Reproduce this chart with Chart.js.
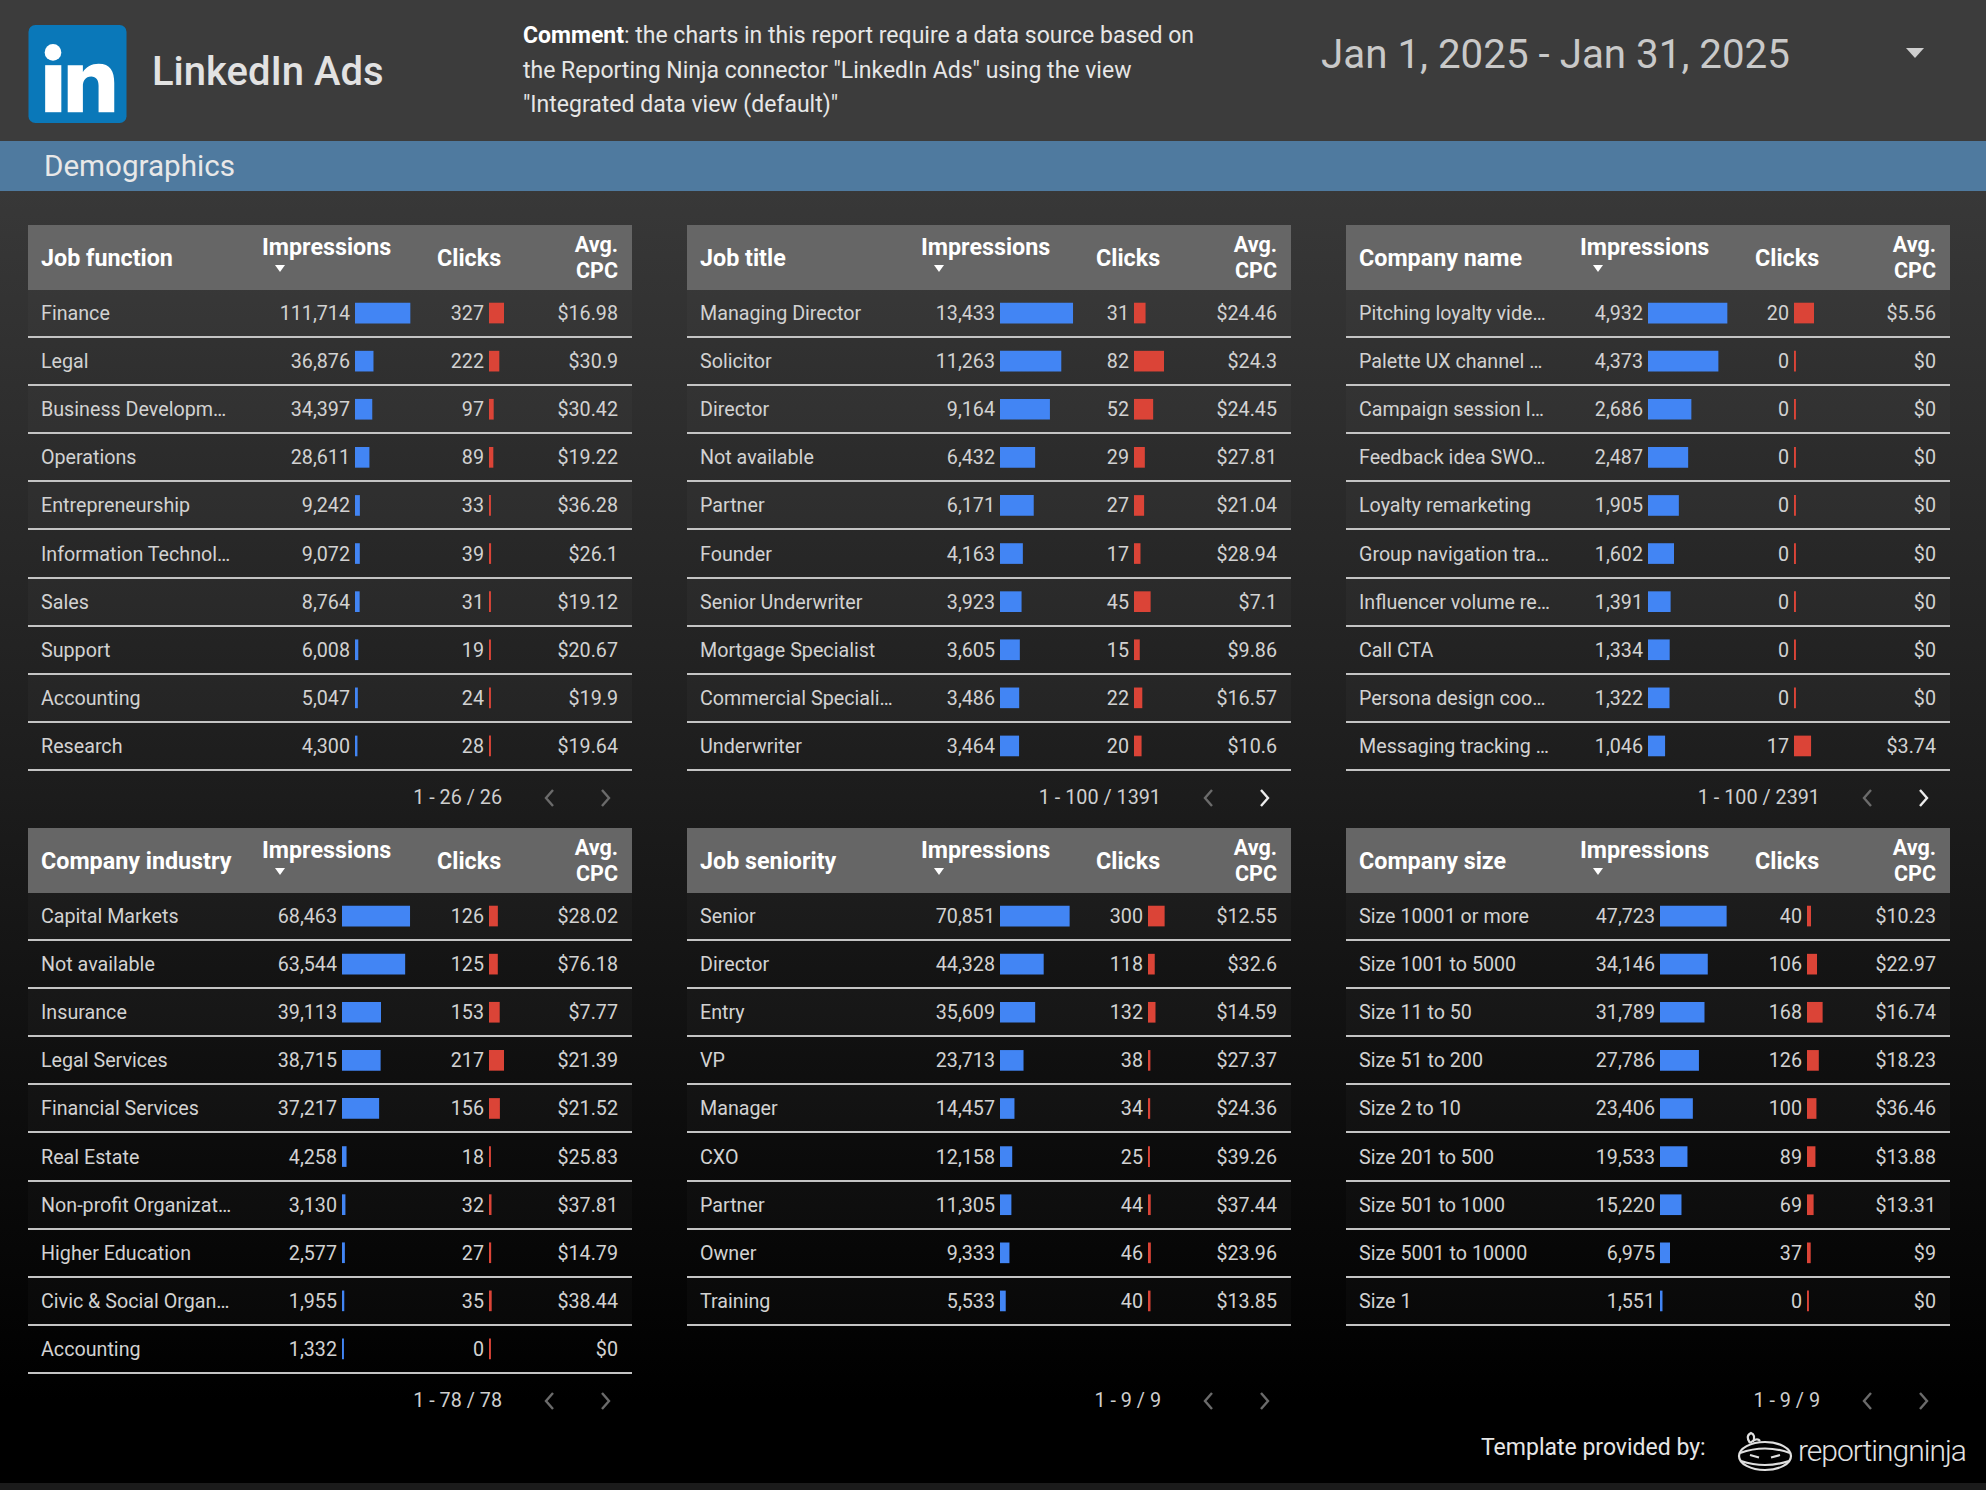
<!DOCTYPE html>
<html>
<head>
<meta charset="utf-8">
<title>LinkedIn Ads - Demographics</title>
<script src="https://cdn.jsdelivr.net/npm/chart.js@4.4.1/dist/chart.umd.min.js"></script>
<style>
    body {
        margin: 0;
        background: #000;
        font-family: Roboto, "Noto Sans", sans-serif;
    }

    #page {
        position: relative;
        width: 1986px;
        height: 1490px;
        overflow: hidden;
        background: linear-gradient(180deg, #383838 0px, #383838 191px, #000 1400px, #000 1490px);
    }

    #topbar {
        position: absolute;
        left: 0;
        top: 0;
        width: 1986px;
        height: 141px;
        background: #3c3c3c;
    }

    #band {
        position: absolute;
        left: 0;
        top: 141px;
        width: 1986px;
        height: 50px;
        background: #4f7a9f;
        color: #e8e8e8;
        font-size: 29.6px;
        line-height: 50px;
    }

    .abs {
        position: absolute;
        white-space: nowrap;
    }

    .table {
        position: absolute;
        width: 604px;
        height: 600px;
    }

    .thead {
        position: absolute;
        left: 0;
        top: 0;
        width: 604px;
        height: 65px;
        background: #666666;
        color: #ffffff;
        font-weight: 700;
        font-size: 23.3px;
    }

    .thead div {
        position: absolute;
        white-space: nowrap;
    }

    .row {
        position: absolute;
        left: 0;
        width: 604px;
        height: 48.1px;
        box-sizing: border-box;
        border-bottom: 2px solid #c4c4c4;
        color: #d2d2d2;
        font-size: 19.7px;
        line-height: 48px;
    }

    .row span {
        position: absolute;
        top: 0;
        white-space: nowrap;
    }

    .pager {
        color: #cfcfcf;
        font-size: 19.8px;
        line-height: 24px;
    }
</style>
</head>
<body>

<div id="page">

    <div id="topbar"></div>

    <svg class="abs" style="left:28px;top:25px" width="99" height="98" viewBox="0 0 100 100">
        <rect x="0" y="0" width="100" height="100" rx="7" fill="#0a78b9"/>
        <circle cx="25" cy="28" r="8.5" fill="#fff"/>
        <rect x="17" y="41" width="16.5" height="48" fill="#fff"/>
        <path d="M40 41 h15.5 v7 c3 -5 9 -8.5 16 -8.5 c12 0 16 7.5 16 19.5 v30 h-16 v-27 c0 -6 -2.5 -9.5 -7.5 -9.5 c-6 0 -8.5 4.5 -8.5 10 v26.5 h-15.5 z" fill="#fff"/>
    </svg>

    <div class="abs" style="left:152px;top:48px;font-size:40px;line-height:48px;font-weight:500;color:#e2e2e2">LinkedIn Ads</div>

    <div class="abs" style="left:523px;top:19px;font-size:23px;line-height:34.5px;color:#e6e6e6">
        <b style="color:#fff">Comment</b>: the charts in this report require a data source based on<br>
        the Reporting Ninja connector "LinkedIn Ads" using the view<br>
        "Integrated data view (default)"
    </div>

    <div class="abs" style="left:1321px;top:31px;font-size:40.3px;line-height:48px;color:#c9c9c9">Jan 1, 2025 - Jan 31, 2025</div>

    <div class="abs" style="left:1906px;top:48px;width:0;height:0;border-left:9px solid transparent;border-right:9px solid transparent;border-top:10px solid #cfcfcf"></div>

    <div id="band"><span style="position:absolute;left:44px">Demographics</span></div>

    <div id="tables"></div>

    <div class="abs" style="left:1481px;top:1433px;font-size:23px;line-height:30px;color:#e6e6e6">Template provided by:</div>

    <svg class="abs" style="left:1737px;top:1430px" width="56" height="42" viewBox="0 0 56 42" fill="none" stroke="#e0e0e0" stroke-width="2.2">
        <ellipse cx="28" cy="26" rx="26" ry="14"/>
        <path d="M3 23 Q28 14 53 23"/>
        <path d="M4 31 Q28 39 52 31"/>
        <path d="M13 25 l9 2.5 M43 25 l-9 2.5"/>
        <path d="M13 13 q-5 -7 1 -10 q5 2 2 9 M13 13 q7 -6 10 -2"/>
    </svg>

    <div class="abs" style="left:1798px;top:1432px;font-size:30px;line-height:38px;font-weight:300;letter-spacing:-1px;color:#e2e2e2">reportingninja</div>

    <div class="abs" style="left:0;top:1483px;width:1986px;height:7px;background:#1b1b1b"></div>

</div>

<script>

// ---- data ----

const jobFunctionLabels = [
    "Finance", "Legal", "Business Developm…", "Operations", "Entrepreneurship",
    "Information Technol…", "Sales", "Support", "Accounting", "Research"
];
const jobFunctionImpressions = [111714, 36876, 34397, 28611, 9242, 9072, 8764, 6008, 5047, 4300];
const jobFunctionClicks = [327, 222, 97, 89, 33, 39, 31, 19, 24, 28];
const jobFunctionCpc = [16.98, 30.9, 30.42, 19.22, 36.28, 26.1, 19.12, 20.67, 19.9, 19.64];

const jobTitleLabels = [
    "Managing Director", "Solicitor", "Director", "Not available", "Partner",
    "Founder", "Senior Underwriter", "Mortgage Specialist", "Commercial Speciali…", "Underwriter"
];
const jobTitleImpressions = [13433, 11263, 9164, 6432, 6171, 4163, 3923, 3605, 3486, 3464];
const jobTitleClicks = [31, 82, 52, 29, 27, 17, 45, 15, 22, 20];
const jobTitleCpc = [24.46, 24.3, 24.45, 27.81, 21.04, 28.94, 7.1, 9.86, 16.57, 10.6];

const companyNameLabels = [
    "Pitching loyalty vide…", "Palette UX channel …", "Campaign session l…", "Feedback idea SWO…",
    "Loyalty remarketing", "Group navigation tra…", "Influencer volume re…", "Call CTA",
    "Persona design coo…", "Messaging tracking …"
];
const companyNameImpressions = [4932, 4373, 2686, 2487, 1905, 1602, 1391, 1334, 1322, 1046];
const companyNameClicks = [20, 0, 0, 0, 0, 0, 0, 0, 0, 17];
const companyNameCpc = [5.56, 0, 0, 0, 0, 0, 0, 0, 0, 3.74];

const industryLabels = [
    "Capital Markets", "Not available", "Insurance", "Legal Services", "Financial Services",
    "Real Estate", "Non-profit Organizat…", "Higher Education", "Civic & Social Organ…", "Accounting"
];
const industryImpressions = [68463, 63544, 39113, 38715, 37217, 4258, 3130, 2577, 1955, 1332];
const industryClicks = [126, 125, 153, 217, 156, 18, 32, 27, 35, 0];
const industryCpc = [28.02, 76.18, 7.77, 21.39, 21.52, 25.83, 37.81, 14.79, 38.44, 0];

const seniorityLabels = [
    "Senior", "Director", "Entry", "VP", "Manager", "CXO", "Partner", "Owner", "Training"
];
const seniorityImpressions = [70851, 44328, 35609, 23713, 14457, 12158, 11305, 9333, 5533];
const seniorityClicks = [300, 118, 132, 38, 34, 25, 44, 46, 40];
const seniorityCpc = [12.55, 32.6, 14.59, 27.37, 24.36, 39.26, 37.44, 23.96, 13.85];

const companySizeLabels = [
    "Size 10001 or more", "Size 1001 to 5000", "Size 11 to 50", "Size 51 to 200", "Size 2 to 10",
    "Size 201 to 500", "Size 501 to 1000", "Size 5001 to 10000", "Size 1"
];
const companySizeImpressions = [47723, 34146, 31789, 27786, 23406, 19533, 15220, 6975, 1551];
const companySizeClicks = [40, 106, 168, 126, 100, 89, 69, 37, 0];
const companySizeCpc = [10.23, 22.97, 16.74, 18.23, 36.46, 13.88, 13.31, 9, 0];

const pageTexts = ["1 - 26 / 26", "1 - 100 / 1391", "1 - 100 / 2391", "1 - 78 / 78", "1 - 9 / 9", "1 - 9 / 9"];


const tables = [
    { title: "Job function", labels: jobFunctionLabels, impressions: jobFunctionImpressions, clicks: jobFunctionClicks, cpc: jobFunctionCpc, hasNext: false },
    { title: "Job title", labels: jobTitleLabels, impressions: jobTitleImpressions, clicks: jobTitleClicks, cpc: jobTitleCpc, hasNext: true },
    { title: "Company name", labels: companyNameLabels, impressions: companyNameImpressions, clicks: companyNameClicks, cpc: companyNameCpc, hasNext: true },
    { title: "Company industry", labels: industryLabels, impressions: industryImpressions, clicks: industryClicks, cpc: industryCpc, hasNext: false },
    { title: "Job seniority", labels: seniorityLabels, impressions: seniorityImpressions, clicks: seniorityClicks, cpc: seniorityCpc, hasNext: false },
    { title: "Company size", labels: companySizeLabels, impressions: companySizeImpressions, clicks: companySizeClicks, cpc: companySizeCpc, hasNext: false }
];

// ---- layout (px) ----

const ROW_H = 48.1;
const HEAD_H = 65;
const TABLE_W = 604;
const IMP_CANVAS_W = 100;
const CLICK_CANVAS_W = 40;

// impBarX / clickBarX: where the bar column starts inside the table
// impBarPx / clickBarPx: length of the longest bar on the page
const tableLayout = [
    { left: 28,   top: 225, impBarX: 327, clickBarX: 461, impBarPx: 55,   clickBarPx: 14.7 },
    { left: 687,  top: 225, impBarX: 313, clickBarX: 447, impBarPx: 72.7, clickBarPx: 29.7 },
    { left: 1346, top: 225, impBarX: 302, clickBarX: 448, impBarPx: 79,   clickBarPx: 19.7 },
    { left: 28,   top: 828, impBarX: 314, clickBarX: 461, impBarPx: 67.7, clickBarPx: 14.7 },
    { left: 687,  top: 828, impBarX: 313, clickBarX: 461, impBarPx: 69.3, clickBarPx: 16.3 },
    { left: 1346, top: 828, impBarX: 314, clickBarX: 461, impBarPx: 66.3, clickBarPx: 15.3 }
];


function el(tag, css, html) {

    const e = document.createElement(tag);

    if (css) e.style.cssText = css;
    if (html !== undefined) e.innerHTML = html;

    return e;
}


function drawBars(parent, x, labels, values, canvasW, maxPx, color) {

    const canvas =
        document.createElement("canvas");

    const h = Math.round(labels.length * ROW_H);

    canvas.width = canvasW;
    canvas.height = h;
    canvas.style.cssText =
        "position:absolute;left:" + x + "px;top:" + (HEAD_H - 1) + "px;" +
        "width:" + canvasW + "px;height:" + h + "px";

    parent.appendChild(canvas);

    // axis max chosen so the biggest value gets the bar length of the report
    const axisMax =
        Math.max(...values) * canvasW / maxPx;

    new Chart(canvas, {

        type: "bar",

        data: {
            labels: labels,
            datasets: [
                {
                    data: values,
                    backgroundColor: color,
                    borderWidth: 0,
                    barThickness: 20,
                    minBarLength: 1.6
                }
            ]
        },

        options: {
            indexAxis: "y",
            responsive: false,
            animation: false,
            events: [],
            layout: { padding: 0 },
            plugins: {
                legend: { display: false },
                tooltip: { enabled: false }
            },
            scales: {
                x: { display: false, min: 0, max: axisMax },
                y: { display: false, offset: true }
            }
        }
    });
}


function chevron(left, top, dir, on) {

    const pts = dir === "left" ? "10,2 3,10 10,18" : "2,2 9,10 2,18";

    return el(
        "div",
        "position:absolute;left:" + left + "px;top:" + top + "px;width:12px;height:20px",
        '<svg width="12" height="20"><polyline points="' + pts + '" fill="none" stroke="' +
            (on ? "#ededed" : "#6b6b6b") + '" stroke-width="2.4"/></svg>'
    );
}


function buildTable(t, lay, pageText) {

    const box = el("div", "left:" + lay.left + "px;top:" + lay.top + "px");
    box.className = "table";

    // header
    const head = el("div");
    head.className = "thead";

    head.appendChild(el("div", "left:13px;top:1px;line-height:65px", t.title));
    head.appendChild(el("div", "left:234px;top:10px;line-height:24px", "Impressions"));
    head.appendChild(el("div",
        "left:247px;top:40px;width:0;height:0;" +
        "border-left:5px solid transparent;border-right:5px solid transparent;border-top:7px solid #fff"));
    head.appendChild(el("div", "left:409px;top:1px;line-height:65px", "Clicks"));
    head.appendChild(el("div", "right:14px;top:7px;height:26px;line-height:26px;font-size:21.5px", "Avg."));
    head.appendChild(el("div", "right:14px;top:32.5px;height:26px;line-height:26px;font-size:21.5px", "CPC"));

    box.appendChild(head);

    // rows
    for (let i = 0; i < t.labels.length; i++) {

        const row = el("div",
            "top:" + (HEAD_H + i * ROW_H) + "px;" +
            (i % 2 === 0 ? "background:rgba(255,255,255,0.025)" : ""));
        row.className = "row";

        row.appendChild(el("span", "left:13px", t.labels[i]));
        row.appendChild(el("span", "right:" + (TABLE_W - lay.impBarX + 5) + "px",
            t.impressions[i].toLocaleString("en-US")));
        row.appendChild(el("span", "right:" + (TABLE_W - lay.clickBarX + 5) + "px",
            t.clicks[i].toLocaleString("en-US")));
        row.appendChild(el("span", "right:14px", "$" + t.cpc[i]));

        box.appendChild(row);
    }

    // bars
    drawBars(box, lay.impBarX, t.labels, t.impressions, IMP_CANVAS_W, lay.impBarPx, "#4285f4");
    drawBars(box, lay.clickBarX, t.labels, t.clicks, CLICK_CANVAS_W, lay.clickBarPx, "#db4437");

    // pager
    const pager = el("div", "position:absolute;right:" + (TABLE_W - 474) + "px;top:561px", pageText);
    pager.className = "pager";
    box.appendChild(pager);

    box.appendChild(chevron(515, 563, "left", false));
    box.appendChild(chevron(572, 563, "right", t.hasNext));

    document.getElementById("tables").appendChild(box);
}


tables.forEach(
    (t, i) => buildTable(t, tableLayout[i], pageTexts[i])
);

</script>
</body>
</html>
